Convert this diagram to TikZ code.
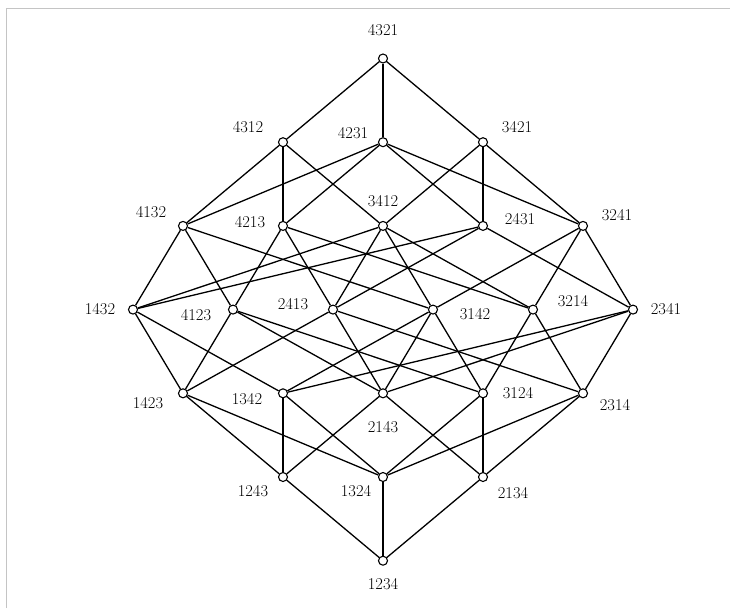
\documentclass[tikz,border=0pt]{standalone}
\usepackage{fix-cm}
\usepackage{tikz}
\usetikzlibrary{calc}
\definecolor{frameg}{HTML}{C4C4C4}
\newcommand{\perm}[3]{\node[vtx] (p#1) at (#2) {};
  \node[lbl] (l#1) at ($(p#1)+(#3)$) {#1};}
\tikzset{vtx/.style={circle,draw,fill=white,inner sep=0pt,minimum size=9pt,line width=1.1pt},edge/.style={line width=1.3pt},lbl/.style={font=\fontsize{16.5}{19}\selectfont},frame/.style={frameg,line width=1.8pt}}
\begin{document}
\begin{tikzpicture}[x=50pt,y=83.7pt]
\useasboundingbox (-7.66,-0.565) rectangle (6.94,6.699);
\draw[frame] (-7.53,-0.565) |- (6.94,6.597);
% rank 6 and 5
\perm{4321}{0,6}{0pt,28pt}
\perm{4312}{-2,5}{-35pt,15pt}
\perm{4231}{0,5}{-30pt,9pt}
\perm{3421}{2,5}{34pt,15pt}
% rank 4
\perm{4132}{-4,4}{-32pt,14pt}
\perm{4213}{-2,4}{-33pt,4pt}
\perm{3412}{0,4}{0pt,25pt}
\perm{2431}{2,4}{37pt,7pt}
\perm{3241}{4,4}{34pt,11pt}
% rank 3
\perm{1432}{-5,3}{-33pt,0pt}
\perm{4123}{-3,3}{-37pt,-6pt}
\perm{2413}{-1,3}{-40pt,5pt}
\perm{3142}{1,3}{42pt,-5pt}
\perm{3214}{3,3}{40pt,8pt}
\perm{2341}{5,3}{33pt,0pt}
% rank 2
\perm{1423}{-4,2}{-35pt,-10pt}
\perm{1342}{-2,2}{-36pt,-6pt}
\perm{2143}{0,2}{0pt,-34pt}
\perm{3124}{2,2}{35pt,0pt}
\perm{2314}{4,2}{32pt,-12pt}
% rank 1 and 0
\perm{1243}{-2,1}{-30pt,-14pt}
\perm{1324}{0,1}{-27pt,-14pt}
\perm{2134}{2,1}{30pt,-16pt}
\perm{1234}{0,0}{0pt,-23pt}
% covering relations
\foreach \a/\b in {4321/4312,4321/4231,4321/3421,
  4312/3412,4312/4132,4312/4213,
  4231/2431,4231/3241,4231/4132,4231/4213,
  3421/2431,3421/3241,3421/3412,
  4132/1432,4132/3142,4132/4123,
  4213/2413,4213/3214,4213/4123,
  3412/1432,3412/2413,3412/3142,3412/3214,
  2431/1432,2431/2341,2431/2413,
  3241/2341,3241/3142,3241/3214,
  1432/1342,1432/1423,
  4123/1423,4123/2143,4123/3124,
  2413/1423,2413/2143,2413/2314,
  3142/1342,3142/2143,3142/3124,
  3214/2314,3214/3124,
  2341/1342,2341/2143,2341/2314,
  1423/1243,1423/1324,1342/1243,1342/1324,
  2143/1243,2143/2134,3124/1324,3124/2134,
  2314/1324,2314/2134,
  1243/1234,1324/1234,2134/1234}
  \draw[edge] (p\a) -- (p\b);
\end{tikzpicture}
\end{document}
